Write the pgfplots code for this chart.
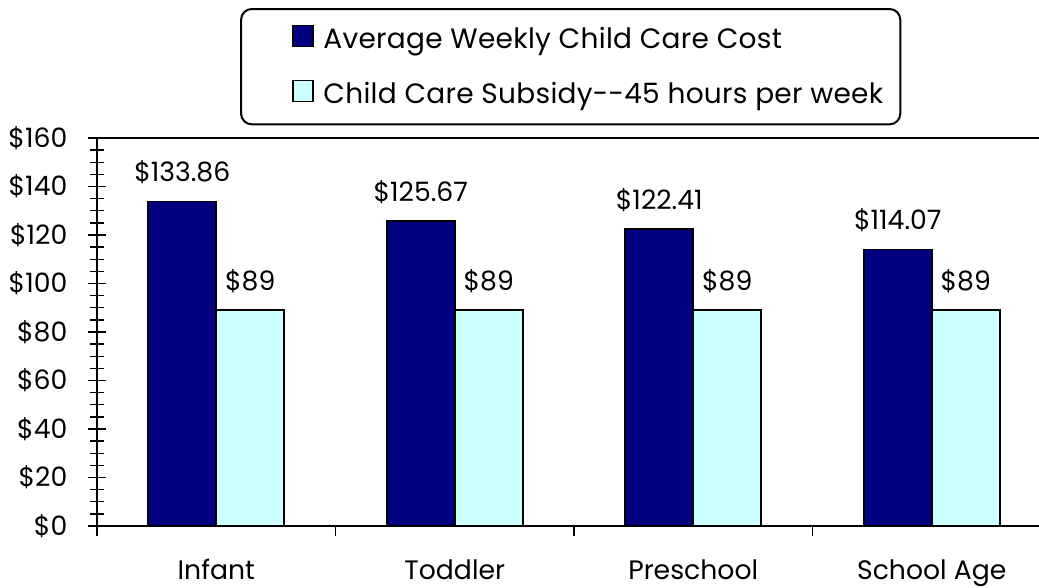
\documentclass[border=0pt]{standalone}
\usepackage{fontspec}
\setmainfont{Poppins}
\usepackage{pgfplots}
\pgfplotsset{compat=1.18}
\definecolor{navy}{HTML}{000080}
\definecolor{lcyan}{HTML}{CCFFFF}
\begin{document}
\begin{tikzpicture}
\begin{axis}[
  scale only axis, width=715.5pt, height=291pt,
  xmin=-0.5, xmax=3.5, ymin=0, ymax=160,
  ybar=0pt, bar width=51pt,
  xtick={-0.5,0.5,1.5,2.5,3.5},
  x tick label as interval,
  xticklabels={Infant,Toddler,Preschool,School Age},
  ytick={0,20,...,160},
  yticklabels={\$0,\$20,\$40,\$60,\$80,\$100,\$120,\$140,\$160},
  minor y tick num=3,
  xtick pos=left, ytick pos=left,
  ytick align=center, xtick align=outside,
  major tick length=13.5pt, minor tick length=9.75pt,
  tick style={black, line width=1pt},
  xtick style={/pgfplots/major tick length=7.5pt},
  axis line style={line width=1.5pt},
  font=\fontsize{20}{24}\selectfont,
  xticklabel style={font=\fontsize{20}{24}\selectfont, yshift=-8pt},
  yticklabel style={font=\fontsize{20}{24}\selectfont, xshift=-12pt},
  point meta=explicit symbolic,
  nodes near coords,
  nodes near coords style={anchor=base, yshift=15pt, font=\fontsize{20}{24}\selectfont, black},
  legend style={at={(rel axis cs:0.150,1.335)}, anchor=north west, draw=black, line width=1.5pt,
    rounded corners=8pt, inner xsep=12.75pt, inner ysep=12pt, row sep=20pt,
    font=\fontsize{21}{25}\selectfont\addfontfeatures{LetterSpace=1},
    nodes={text height=15pt, text depth=4pt, inner sep=0pt}},
  legend cell align=left,
]
\addplot[fill=navy, draw=black, line width=1.2pt,
  legend image code/.code={\path[draw=none, fill=none] (0pt,0pt) -- (49pt,0pt); \draw[sharp corners, fill=navy, draw=black, line width=1pt] (26.25pt,-4.5pt) rectangle (41.25pt,11.25pt);}]
  coordinates {(0,133.86) [\$133.86] (1,125.67) [\$125.67] (2,122.41) [\$122.41] (3,114.07) [\$114.07]};
\addplot[fill=lcyan, draw=black, line width=1.2pt,
  legend image code/.code={\path[draw=none, fill=none] (0pt,0pt) -- (49pt,0pt); \draw[sharp corners, fill=lcyan, draw=black, line width=1pt] (26.25pt,-4.5pt) rectangle (41.25pt,11.25pt);}]
  coordinates {(0,89) [\$89] (1,89) [\$89] (2,89) [\$89] (3,89) [\$89]};
\legend{Average Weekly Child Care Cost, Child Care Subsidy-{}-45 hours per week}
\end{axis}
\pgfresetboundingbox
\path[use as bounding box] ([xshift=-72.75pt,yshift=-46.5pt]current axis.south west) rectangle ([xshift=706.5pt,yshift=394.5pt]current axis.south west);
\end{tikzpicture}
\end{document}
